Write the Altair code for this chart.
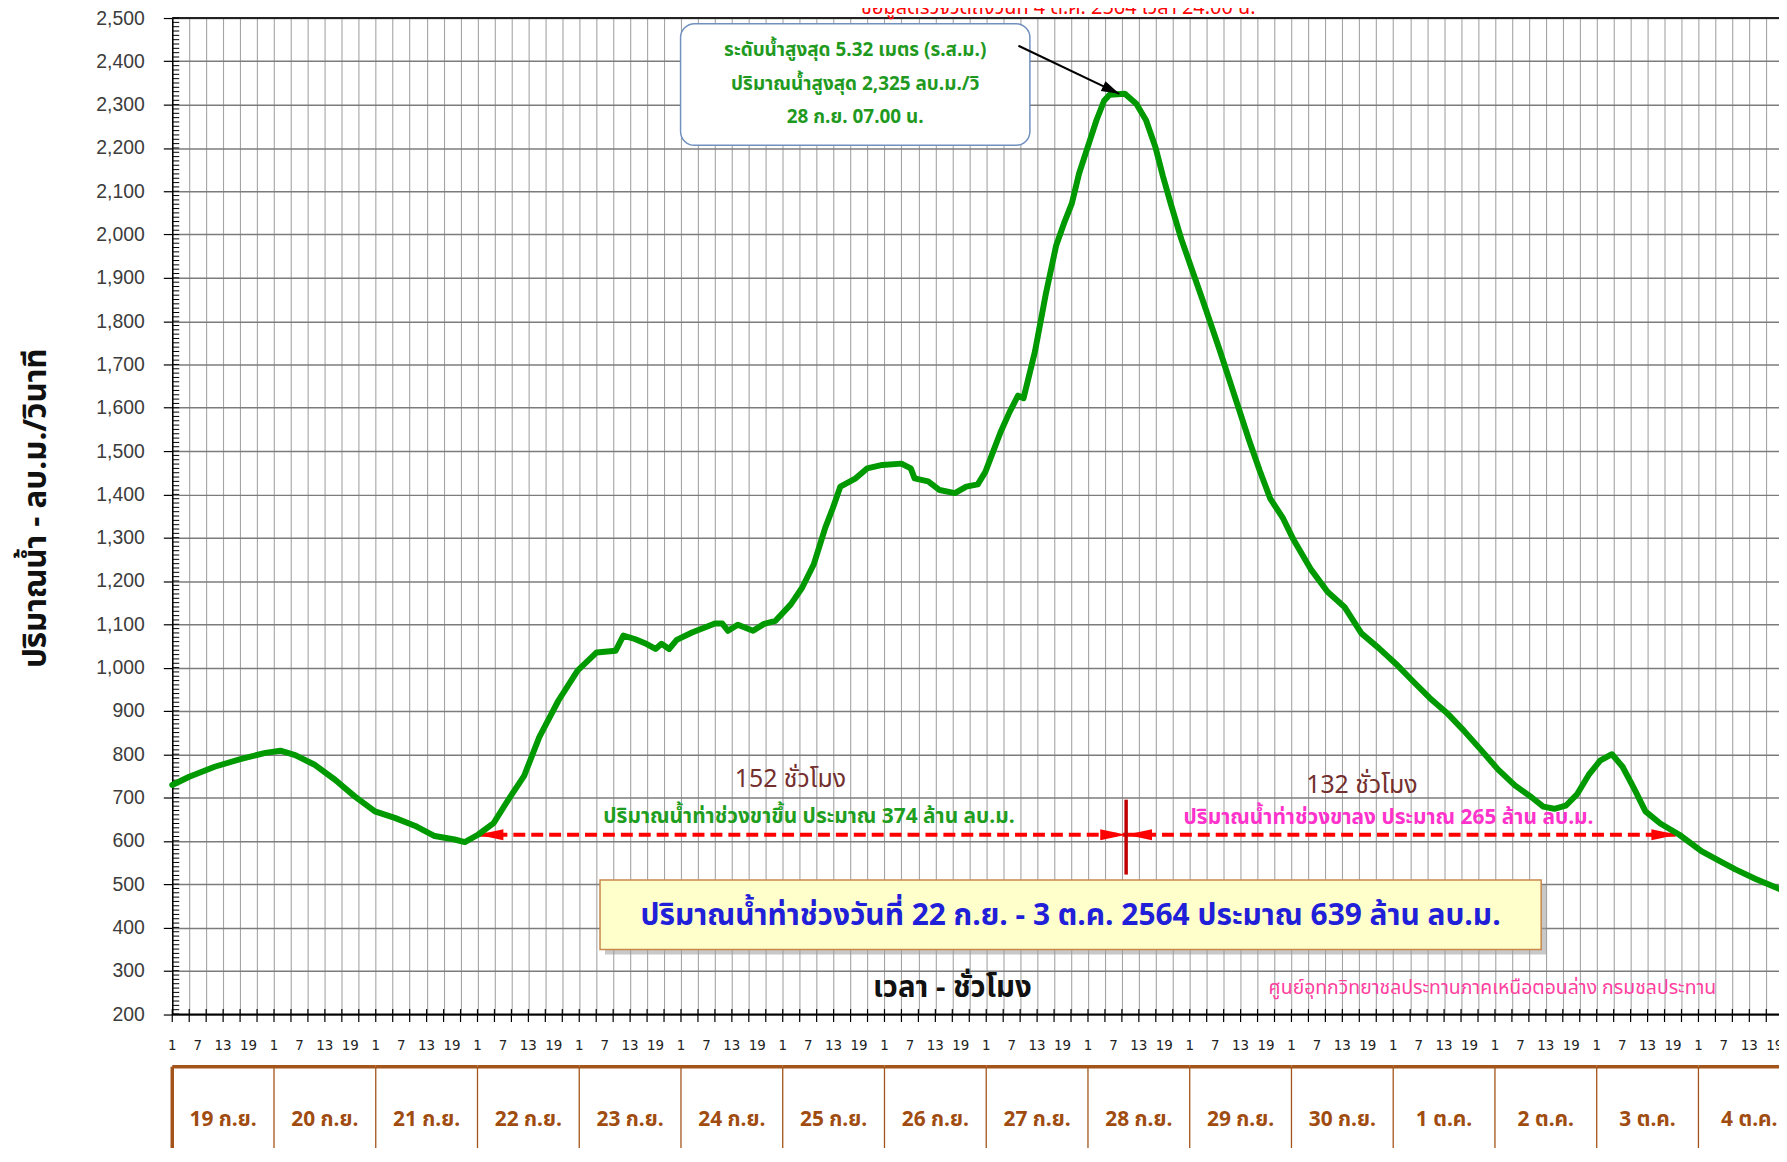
import altair as alt
import pandas as pd

# ---------------- values ----------------
# hours counted from 19 ก.ย. 01.00 น.
hours = [0, 4, 10, 16.5, 22, 25.5, 29, 33.7, 38.4, 43.1,
         47.8, 52.5, 57.2, 61.9, 66.6, 69, 72.1, 75.8, 79.4, 83,
         86.6, 91.1, 95.6, 100.1, 104.6, 106.4, 109.1, 111.8, 114, 115.4,
         117.2, 119, 122.6, 128, 129.7, 131.1, 133.4, 137, 139.6, 142.3,
         145.9, 148.6, 151.3, 154, 155.8, 157.6, 161.2, 163.9, 167.5, 172,
         174.2, 175.1, 178.3, 181, 184.6, 187.3, 190, 191.8, 193.6, 195.4,
         197.5, 199.5, 200.8, 203.5, 206, 208.5, 210.5, 212.2, 213.9, 216.2,
         218, 219.8, 221.1, 224.7, 227.4, 229.7, 231.9, 233.7, 235.5, 238,
         240.5, 243, 247, 251, 254, 256.5, 259, 262, 264.5, 268.5,
         272.5, 276.5, 280.5, 284.6, 288.6, 292.6, 296.6, 300.6, 304.6, 308.7,
         312.7, 316.7, 320.7, 323.4, 326, 328.7, 331.4, 334.1, 336.8, 339.6,
         342.1, 344.8, 347.5, 351, 355.5, 360.7, 364.5, 368.7, 373.5, 378.3,
         381]
flow = [729, 748, 771, 790, 803, 808, 798, 775, 741, 702,
        668, 653, 635, 611, 603, 597, 614, 641, 697, 750,
        840, 924, 993, 1035, 1039, 1074, 1066, 1055, 1043, 1055,
        1043, 1064, 1081, 1102, 1102, 1085, 1099, 1085, 1101, 1108,
        1146, 1185, 1238, 1322, 1368, 1418, 1437, 1460, 1468, 1471,
        1460, 1437, 1430, 1410, 1403, 1418, 1423, 1452, 1498, 1544,
        1590, 1628, 1622, 1730, 1860, 1975, 2030, 2072, 2141, 2210,
        2264, 2309, 2323, 2325, 2302, 2264, 2202, 2134, 2072, 1990,
        1920, 1850, 1735, 1615, 1525, 1455, 1390, 1345, 1295, 1228,
        1175, 1140, 1079, 1045, 1009, 969, 930, 896, 855, 810,
        765, 728, 700, 679, 674, 681, 708, 752, 785, 800,
        771, 721, 668, 640, 614, 576, 556, 534, 512, 492,
        482]

day_labels = ["19 ก.ย.", "20 ก.ย.", "21 ก.ย.", "22 ก.ย.", "23 ก.ย.", "24 ก.ย.",
              "25 ก.ย.", "26 ก.ย.", "27 ก.ย.", "28 ก.ย.", "29 ก.ย.", "30 ก.ย.",
              "1 ต.ค.", "2 ต.ค.", "3 ต.ค.", "4 ต.ค."]
hour_labels = ["1", "7", "13", "19"]
y_tick_values = list(range(200, 2501, 100))

peak_lines = ["ระดับน้ำสูงสุด 5.32 เมตร (ร.ส.ม.)",
              "ปริมาณน้ำสูงสุด 2,325 ลบ.ม./วิ",
              "28 ก.ย. 07.00 น."]
rise_hours_text = "152 ชั่วโมง"
fall_hours_text = "132 ชั่วโมง"
rise_text = "ปริมาณน้ำท่าช่วงขาขึ้น ประมาณ 374 ล้าน ลบ.ม."
fall_text = "ปริมาณน้ำท่าช่วงขาลง ประมาณ 265 ล้าน ลบ.ม."
total_text = "ปริมาณน้ำท่าช่วงวันที่  22 ก.ย. - 3 ต.ค. 2564 ประมาณ 639 ล้าน ลบ.ม."
x_title = "เวลา - ชั่วโมง"
y_title = "ปริมาณน้ำ  -  ลบ.ม./วินาที"
credit = "ศูนย์อุทกวิทยาชลประทานภาคเหนือตอนล่าง กรมชลประทาน"
top_title = "ข้อมูลตรวจวัดถึงวันที่ 4 ต.ค. 2564 เวลา 24.00 น."

rise_start, split_hour, fall_end = 72, 225, 355
marker_flow = 614

# ---------------- layout / style ----------------
W, H = 1614, 1000.5
X_END = 379.0
THAI = "Tahoma, 'Noto Sans Thai', 'Noto Sans', 'DejaVu Sans', sans-serif"
NARROW = "'Liberation Sans Narrow', 'DejaVu Sans Condensed', 'Liberation Sans', sans-serif"
BROWN = "#a3541a"

xs = alt.Scale(domain=[0, X_END], nice=False, zero=False)
ys = alt.Scale(domain=[200, 2500], nice=False, zero=False)

x_axis = alt.Axis(values=list(range(0, 380, 4)), grid=True, gridColor="#a4a4a4",
                  gridWidth=1.1, ticks=False, labels=False, domain=True,
                  domainColor="#000000", domainWidth=2, title=None)
y_axis = alt.Axis(values=y_tick_values, grid=True, gridColor="#7c7c7c", gridWidth=1.5,
                  ticks=True, tickSize=9, tickColor="#000000", tickWidth=1.2,
                  labelFont="Liberation Sans", labelFontSize=19.5, labelColor="#3c3c3c",
                  labelPadding=19, labelFlush=False, labelOverlap=False, format=",.0f",
                  domain=True, domainColor="#000000", domainWidth=1.5, title=None)


def X(f="h"):
    return alt.X(f"{f}:Q", scale=xs, axis=x_axis)


def Y(f="q"):
    return alt.Y(f"{f}:Q", scale=ys, axis=y_axis)


def label(h, q, text, color, size, weight="normal", font=THAI):
    df = pd.DataFrame({"h": [h], "q": [q], "t": [text]})
    return alt.Chart(df).mark_text(color=color, fontSize=size, fontWeight=weight,
                                   font=font, align="center", baseline="middle").encode(
        x=X(), y=Y(), text="t:N")


layers = []
line_df = pd.DataFrame({"h": hours, "q": flow})

# top border
layers.append(alt.Chart(pd.DataFrame({"a": [0]})).mark_rule(color="#222222", strokeWidth=2).encode(
    x=alt.value(0), x2=alt.value(W), y=alt.value(0)))

# minor y ticks
minor_df = pd.DataFrame({"q": list(range(200, 2501, 10))})
layers.append(alt.Chart(minor_df).mark_rule(color="#000000", strokeWidth=1).encode(
    x=alt.value(0), x2=alt.value(7), y=Y()))

# x ticks crossing the bottom axis
xt_df = pd.DataFrame({"h": list(range(0, 380, 4))})
layers.append(alt.Chart(xt_df).mark_rule(color="#000000", strokeWidth=1.2).encode(
    x=X(), y=alt.value(H - 5), y2=alt.value(H + 8)))

# hour labels
hl_df = pd.DataFrame({"h": [24 * k + 6 * j for k in range(16) for j in range(4)],
                      "t": [hour_labels[j] for k in range(16) for j in range(4)]})
layers.append(alt.Chart(hl_df).mark_text(font=NARROW, fontSize=15, color="#222222",
                                         baseline="middle").encode(
    x=X(), y=alt.value(1032), text="t:N"))

# date boxes
day_df = pd.DataFrame({"start": [24 * k for k in range(16)],
                       "end": [24 * (k + 1) for k in range(16)],
                       "mid": [24 * k + 12 for k in range(16)],
                       "label": day_labels})
layers.append(alt.Chart(day_df).mark_rule(color=BROWN, strokeWidth=1.3).encode(
    x=X("start"), y=alt.value(1053.5), y2=alt.value(1140)))
layers.append(alt.Chart(day_df.iloc[:1]).mark_rule(color=BROWN, strokeWidth=3.5).encode(
    x=X("start"), y=alt.value(1053.5), y2=alt.value(1140)))
layers.append(alt.Chart(day_df).mark_rule(color=BROWN, strokeWidth=3.5).encode(
    x=X("start"), x2="end:Q", y=alt.value(1053.5)))
layers.append(alt.Chart(day_df).mark_text(font=THAI, fontSize=21, fontWeight="bold",
                                          color="#a04c10", baseline="middle").encode(
    x=X("mid"), y=alt.value(1107), text="label:N"))

# top annotation box
box_df = pd.DataFrame({"h": [119.9], "h2": [202.3], "q": [2206], "q2": [2487]})
layers.append(alt.Chart(box_df).mark_rect(fill="#ffffff", stroke="#7090c0", strokeWidth=1.5,
                                          cornerRadius=14).encode(
    x=X(), x2="h2:Q", y=Y(), y2="q2:Q"))
for text, q in zip(peak_lines, [2426, 2348, 2271]):
    layers.append(label(161.1, q, text, "#1f9a1f", 19, "bold"))

# yellow summary box with shadow
yb_df = pd.DataFrame({"h": [100.9], "h2": [322.9], "q": [349], "q2": [509.5]})
layers.append(alt.Chart(yb_df).mark_rect(fill="#9a9a9a", opacity=0.55, xOffset=5, yOffset=5,
                                         x2Offset=5, y2Offset=5).encode(
    x=X(), x2="h2:Q", y=Y(), y2="q2:Q"))
layers.append(alt.Chart(yb_df).mark_rect(fill="#ffffcc", stroke="#c8884c", strokeWidth=1.5).encode(
    x=X(), x2="h2:Q", y=Y(), y2="q2:Q"))
layers.append(label(211.9, 427, total_text, "#1f20d8", 30, "bold"))

# texts
layers.append(label(145.8, 742, rise_hours_text, "#73302e", 25))
layers.append(label(280.6, 729, fall_hours_text, "#73302e", 25))
layers.append(label(150.2, 655, rise_text, "#1f9e1f", 21, "bold"))
layers.append(label(286.9, 653, fall_text, "#ff33cc", 21, "bold"))
layers.append(label(184.0, 259, x_title, "#111111", 29.5, "bold"))
layers.append(label(311.4, 260, credit, "#ff3fa0", 19.5))

# y title
layers.append(alt.Chart(pd.DataFrame({"t": [y_title]})).mark_text(
    font=THAI, fontSize=31.5, fontWeight="bold", color="#111111", angle=270,
    align="center", baseline="middle").encode(
    x=alt.value(-136), y=alt.value(492.5), text="t:N"))

# clipped red title at the very top
layers.append(alt.Chart(pd.DataFrame({"h": [209.0], "t": [top_title]})).mark_text(
    font=THAI, fontSize=20, color="#ff0000", align="center", baseline="alphabetic").encode(
    x=X(), y=alt.value(-4.5), text="t:N"))

# red dashed interval arrows
seg_df = pd.DataFrame({"h": [rise_start, split_hour], "h2": [split_hour, fall_end],
                       "q": [marker_flow, marker_flow]})
layers.append(alt.Chart(seg_df).mark_rule(color="#ff0000", strokeWidth=4,
                                          strokeDash=[12, 6]).encode(
    x=X(), x2="h2:Q", y=Y()))
left_tips = pd.DataFrame({"h": [rise_start, split_hour], "q": [marker_flow, marker_flow]})
right_tips = pd.DataFrame({"h": [split_hour, fall_end], "q": [marker_flow, marker_flow]})
layers.append(alt.Chart(left_tips).mark_point(shape="M0,0 L2,-0.42 L2,0.42 Z", size=676,
                                              filled=True, color="#ff0000", opacity=1,
                                              strokeWidth=0).encode(x=X(), y=Y()))
layers.append(alt.Chart(right_tips).mark_point(shape="M0,0 L-2,-0.42 L-2,0.42 Z", size=676,
                                               filled=True, color="#ff0000", opacity=1,
                                               strokeWidth=0).encode(x=X(), y=Y()))
# red split marker
layers.append(alt.Chart(pd.DataFrame({"h": [split_hour], "q": [522], "q2": [695]})).mark_rule(
    color="#c00000", strokeWidth=3.5).encode(x=X(), y=Y(), y2="q2:Q"))

# the flow line
layers.append(alt.Chart(line_df).mark_line(color="#009a00", strokeWidth=6,
                                           strokeJoin="round", strokeCap="round").encode(
    x=X(), y=Y()))

# black arrow to the peak
arrow_df = pd.DataFrame({"h": [199.6], "q": [2436], "h2": [223.4], "q2": [2325]})
layers.append(alt.Chart(arrow_df).mark_rule(color="#000000", strokeWidth=2).encode(
    x=X(), y=Y(), x2="h2:Q", y2="q2:Q"))
layers.append(alt.Chart(pd.DataFrame({"h": [223.4], "q": [2325]})).mark_point(
    shape="M0,0 L-2,-0.6 L-2,0.6 Z", size=324, angle=25.5, filled=True, color="#000000",
    opacity=1, strokeWidth=0).encode(x=X(), y=Y()))

chart = alt.layer(*layers).properties(
    width=W, height=H,
    autosize=alt.AutoSizeParams(type="none"),
    padding={"left": 165, "top": 7.5, "right": 0, "bottom": 132},
    background="#ffffff",
).configure_view(stroke=None)

chart.save("out.html", embed_options={"renderer": "svg", "actions": False})
